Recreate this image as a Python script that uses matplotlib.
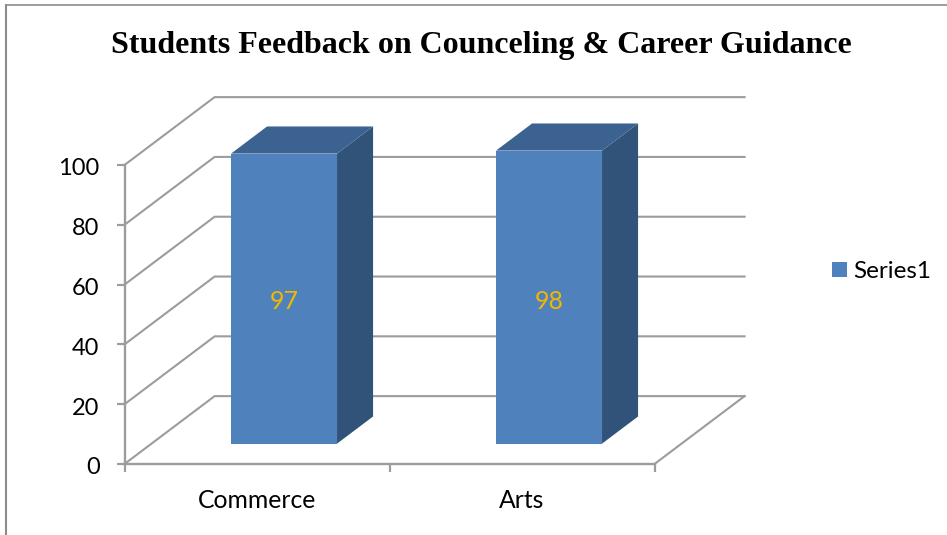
import numpy as np
import matplotlib
matplotlib.use('Agg')
import matplotlib.pyplot as plt
from matplotlib.patches import Polygon, Rectangle
from matplotlib.transforms import ScaledTranslation

categories = ['Commerce', 'Arts']
values = [97, 98]
y_ticks = [0, 20, 40, 60, 80, 100]
series_name = 'Series1'
title = 'Students Feedback on Counceling & Career Guidance'

W, H = 947, 535
FRONT = '#4f81bd'
TOP = '#3c6291'
SIDE = '#315379'
GRID = '#9c9c9c'

# depth of the fake 3d box, in data units
DX = 0.34
DY = 22.7
# the value labels sit at the same height on both bars
LABEL_Y = 47.5


def proj(x, y, z):
    return x + z * DX, y + z * DY


def box(ax, x0, x1, top, z0=0.3, z1=0.7):
    front = [proj(x0, 0, z0), proj(x1, 0, z0), proj(x1, top, z0), proj(x0, top, z0)]
    side = [proj(x1, 0, z0), proj(x1, 0, z1), proj(x1, top, z1), proj(x1, top, z0)]
    roof = [proj(x0, top, z0), proj(x1, top, z0), proj(x1, top, z1), proj(x0, top, z1)]
    ax.add_patch(Polygon(side, fc=SIDE, ec='none', clip_on=False, zorder=3))
    ax.add_patch(Polygon(roof, fc=TOP, ec='none', clip_on=False, zorder=3))
    ax.add_patch(Polygon(front, fc=FRONT, ec='none', clip_on=False, zorder=4))


fig = plt.figure(figsize=(W / 100, H / 100), dpi=100)
ax = fig.add_axes([124.5 / W, 1 - 464 / H, 530 / W, 299 / H])
ax.set_xlim(0, len(categories))
ax.set_ylim(0, 100)
ax.patch.set_visible(False)
for s in ['top', 'right']:
    ax.spines[s].set_visible(False)
for s in ['left', 'bottom']:
    ax.spines[s].set_color(GRID)
    ax.spines[s].set_linewidth(1.7)

# walls and floor
for t in y_ticks:
    xs, ys = zip(proj(0, t, 0), proj(0, t, 1), proj(len(categories), t, 1))
    ax.plot(xs, ys, color=GRID, lw=1.5, clip_on=False, zorder=1)
xs, ys = zip(proj(len(categories), 0, 0), proj(len(categories), 0, 1))
ax.plot(xs, ys, color=GRID, lw=1.5, clip_on=False, zorder=1)

for i, v in enumerate(values):
    box(ax, i + 0.3, i + 0.7, v)
    cx, cy = proj(i + 0.5, LABEL_Y, 0.3)
    ax.text(cx, cy, str(v), color='#f2b800', fontsize=18, family='Lato',
            ha='center', va='center', zorder=5)

ax.set_yticks(y_ticks)
ax.set_xticks(range(len(categories) + 1))
ax.set_xticklabels([])
ax.tick_params(axis='both', color=GRID, width=1.6, length=6)
ax.tick_params(axis='y', labelsize=17, pad=12)
shift = ScaledTranslation(0, -2 / 100, fig.dpi_scale_trans)
for lab in ax.get_yticklabels():
    lab.set_family('Lato')
    lab.set_color('black')
    lab.set_transform(lab.get_transform() + shift)
for i, c in enumerate(categories):
    ax.annotate(c, (i + 0.5, 0), xytext=(0, -26), textcoords='offset points',
                ha='center', va='center', fontsize=17.8, family='Lato', annotation_clip=False)

fig.text(481.5 / W, 1 - 46 / H, title, family='Liberation Serif', weight='bold',
         fontsize=23, ha='center', va='center')

# legend, drawn by hand since the bars are polygons
fig.add_artist(Rectangle((832 / W, 1 - 277 / H), 15 / W, 15 / H, fc=FRONT, ec='none',
                         transform=fig.transFigure))
fig.text(853 / W, 1 - 271.5 / H, series_name, family='Lato', fontsize=17.5, ha='left', va='center')

# outer frame
fig.add_artist(plt.Line2D([6 / W, 6 / W], [0, 1 - 4.5 / H], color='#8c8c8c', lw=1.5))
fig.add_artist(plt.Line2D([6 / W, 1], [1 - 4.5 / H, 1 - 4.5 / H], color='#8c8c8c', lw=1.2))

fig.savefig('out.png', dpi=100)
